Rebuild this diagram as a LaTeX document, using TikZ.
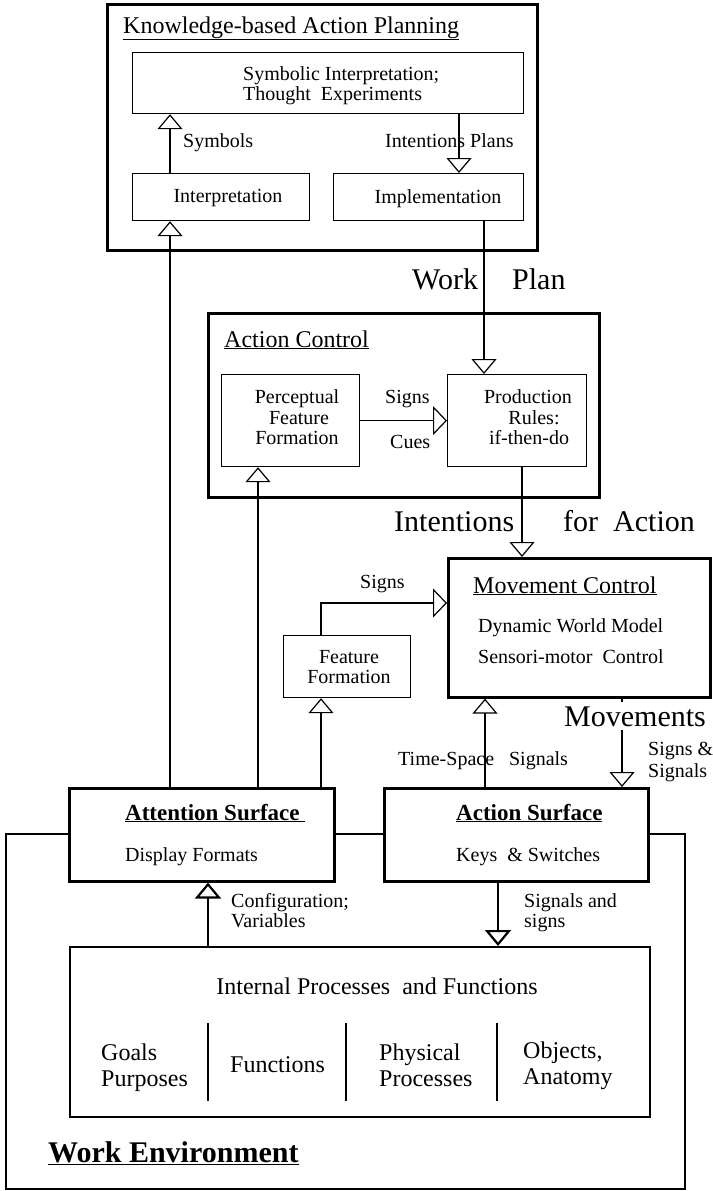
\documentclass[tikz,border=0pt]{standalone}
\usepackage{fontspec}
\setmainfont{Liberation Serif}
\usetikzlibrary{arrows.meta,calc}
\begin{document}
\begin{tikzpicture}[x=1pt,y=-1pt,
 bigbox/.style={draw,line width=2.6pt,fill=white,inner sep=0pt,anchor=north west},
 smallbox/.style={draw,line width=1.2pt,fill=white,inner sep=0pt,anchor=north west},
 lbl/.style={font=\fontsize{20}{22}\selectfont,inner sep=0pt},
 lbll/.style={lbl,anchor=base west},
 lblc/.style={lbl,anchor=base},
 ttl/.style={font=\fontsize{24}{26}\selectfont,inner sep=0pt,anchor=base west},
 big/.style={font=\fontsize{30}{32}\selectfont,inner sep=0pt,anchor=base west},
 arr/.style={line width=1.2pt,-{Triangle[open,width=25pt,length=15pt,line width=1.2pt]}},
 arrh/.style={line width=1.2pt,-{Triangle[open,width=29pt,length=14pt,line width=1.2pt]}},
 arrb/.style={line width=2.2pt,-{Triangle[open,width=26pt,length=16pt,line width=2.2pt]}},
 divider/.style={line width=2.2pt},
]
\useasboundingbox (0,0) rectangle (712,1191);

% column / row helpers
\coordinate (c170) at (170,0);
\coordinate (c208) at (208,0);
\coordinate (c258) at (258,0);
\coordinate (c321) at (321,0);
\coordinate (c459) at (459,0);
\coordinate (c484) at (484,0);
\coordinate (c485) at (485,0);
\coordinate (c498) at (498,0);
\coordinate (c522) at (522,0);
\coordinate (c622) at (622,0);
\coordinate (r603) at (0,603);

% ---------- Work environment outer frame ----------
\draw[line width=2.6pt] (6,834) rectangle (685,1189);

% ---------- Knowledge-based Action Planning ----------
\node[bigbox,minimum width=430pt,minimum height=246pt] (kap) at (106,3) {};
\node[ttl] (kapt) at (123,33) {\underline{Knowledge-based Action Planning}};
\node[smallbox,minimum width=391pt,minimum height=61pt] (symb) at (132,52) {};
\node[lbll] (symb1) at (243,80) {Symbolic Interpretation;};
\node[lbll] (symb2) at (243,100) {Thought\ \ Experiments};
\node[smallbox,minimum width=177pt,minimum height=47pt] (interp) at (132,173) {};
\node[lblc] (interpt) at (228,202) {Interpretation};
\node[smallbox,minimum width=190pt,minimum height=47pt] (impl) at (333,173) {};
\node[lblc] (implt) at (438,203) {Implementation};

\draw[arr] (interp.north -| c170) -- (symb.south -| c170);
\node[lbll] (symbols) at (183,147) {Symbols};
\draw[arr] (symb.south -| c459) -- (impl.north -| c459);
\node[lbll] (intplans) at (385,147) {Intentions Plans};

% ---------- Action Control ----------
\node[bigbox,minimum width=391pt,minimum height=184pt] (ac) at (207,312) {};
\node[ttl] (act) at (224,347) {\underline{Action Control}};
\node[smallbox,minimum width=138pt,minimum height=92pt] (perc) at (221,374) {};
\node[lblc] (perc1) at (297,403) {Perceptual};
\node[lblc] (perc2) at (299,424) {Feature};
\node[lblc] (perc3) at (297,444) {Formation};
\node[smallbox,minimum width=139pt,minimum height=92pt] (prod) at (447,374) {};
\node[lblc] (prod1) at (528,403) {Production};
\node[lblc] (prod2) at (534,424) {Rules:};
\node[lblc] (prod3) at (529,444) {if-then-do};
\draw[arrh] (perc.east) -- (prod.west);
\node[lbll] (signs1) at (385,403) {Signs};
\node[lbll] (cues) at (390,448) {Cues};

\draw[arr] (impl.south -| c484) -- (prod.north -| c484);
\node[big] (work) at (412,289) {Work};
\node[big] (plan) at (512,289) {Plan};

% ---------- Movement Control ----------
\node[bigbox,minimum width=262pt,minimum height=139pt] (mc) at (447,557) {};
\node[ttl] (mct) at (473,593) {\underline{Movement Control}};
\node[lbll] (mc1) at (478,632) {Dynamic World Model};
\node[lbll] (mc2) at (478,663) {Sensori-motor\ \ Control};
\draw[arr] (prod.south -| c522) -- (mc.north -| c522);
\node[big] (intent) at (394,531) {Intentions};
\node[big] (forac) at (563,531) {for\ \ Action};

% ---------- Feature Formation ----------
\node[smallbox,minimum width=127pt,minimum height=62pt] (feat) at (283,635) {};
\node[lblc] (feat1) at (349,663) {Feature};
\node[lblc] (feat2) at (349,683) {Formation};
\draw[arrh] (feat.north -| c321) |- (mc.west |- r603);
\node[lbll] (signs2) at (360,588) {Signs};

% ---------- Surfaces ----------
\node[bigbox,minimum width=265pt,minimum height=93pt] (att) at (68,787) {};
\node[lbll,font=\fontsize{23}{25}\selectfont\bfseries] (attt) at (125,820) {\underline{Attention Surface\ }};
\node[lbll] (att1) at (125,861) {Display Formats};
\node[bigbox,minimum width=264pt,minimum height=93pt] (acts) at (383,787) {};
\node[lbll,font=\fontsize{23}{25}\selectfont\bfseries] (actst) at (456,820) {\underline{Action Surface}};
\node[lbll] (acts1) at (456,861) {Keys\ \ \& Switches};

\draw[arr] (att.north -| c170) -- (interp.south -| c170);
\draw[arr] (att.north -| c258) -- (perc.south -| c258);
\draw[arr] (att.north -| c321) -- (feat.south -| c321);
\draw[arr] (acts.north -| c485) -- (mc.south -| c485);
\node[lbll] (tss) at (398,765) {Time-Space\ \ \ Signals};
\draw[arr] (mc.south -| c622) -- (acts.north -| c622);
\node[big,fill=white,inner ysep=4pt,inner xsep=0pt] (movs) at (564,726) {Movements};
\node[lbll] (ss1) at (648,755) {Signs \&};
\node[lbll] (ss2) at (648,777) {Signals};

% ---------- Internal processes ----------
\node[draw,line width=2.4pt,fill=white,inner sep=0pt,anchor=north west,minimum width=580pt,minimum height=170pt] (intp) at (69,946) {};
\node[font=\fontsize{24}{26}\selectfont,inner sep=0pt,anchor=base] (intpt) at (377,994) {Internal Processes\ \ and Functions};
\draw[arrb] (intp.north -| c208) -- (att.south -| c208);
\node[lbll] (conf1) at (231,907) {Configuration;};
\node[lbll] (conf2) at (231,927) {Variables};
\draw[arrb] (acts.south -| c498) -- (intp.north -| c498);
\node[lbll] (sas1) at (524,907) {Signals and};
\node[lbll] (sas2) at (524,927) {signs};

\coordinate (d1t) at (208,1023); \coordinate (d1b) at (208,1101);
\coordinate (d2t) at (346,1023); \coordinate (d2b) at (346,1101);
\coordinate (d3t) at (497,1023); \coordinate (d3b) at (497,1101);
\draw[divider] (d1t) -- (d1b);
\draw[divider] (d2t) -- (d2b);
\draw[divider] (d3t) -- (d3b);
\node[ttl] (goals1) at (101,1060) {Goals};
\node[ttl] (goals2) at (101,1086) {Purposes};
\node[ttl] (func) at (230,1072) {Functions};
\node[ttl] (phys1) at (379,1060) {Physical};
\node[ttl] (phys2) at (379,1086) {Processes};
\node[ttl] (obj1) at (523,1058) {Objects,};
\node[ttl] (obj2) at (523,1084) {Anatomy};

\node[big,font=\fontsize{30}{32}\selectfont\bfseries] (we) at (48,1162) {\underline{Work Environment}};
\end{tikzpicture}
\end{document}
